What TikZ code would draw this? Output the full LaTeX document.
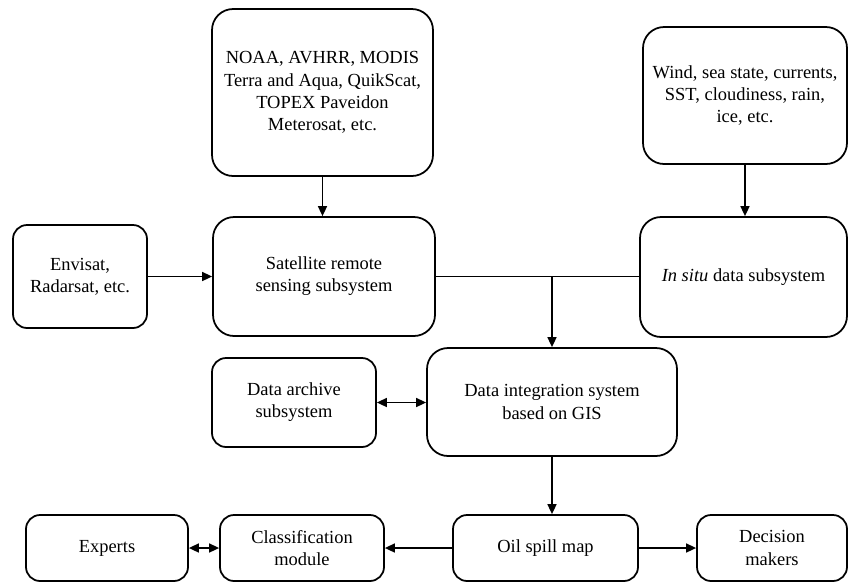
\documentclass[tikz,border=0pt]{standalone}
\usepackage{fontspec}
\setmainfont{Liberation Serif}
\usetikzlibrary{arrows.meta}
\tikzset{
  blk/.style={rectangle, rounded corners=8pt, draw=black, line width=1pt,
              align=center, inner sep=2pt, font=\fontsize{10.5}{12.6}\selectfont},
  fl/.style={-{Triangle[length=2mm, width=1.8mm]}, draw=black, line width=0.9pt},
  dfl/.style={{Triangle[length=2mm, width=1.8mm]}-{Triangle[length=2mm, width=1.8mm]}, draw=black, line width=0.9pt},
  ln/.style={draw=black, line width=0.9pt},
}
\begin{document}
\begin{tikzpicture}
\useasboundingbox (0,0) rectangle (17.02,-11.68);

\node[blk, minimum width=4.42cm, minimum height=3.34cm, rounded corners=12pt] (noaa) at (6.45,-1.85) {NOAA, AVHRR, MODIS\\Terra and Aqua, QuikScat,\\TOPEX Paveidon\\Meterosat, etc.};
\node[blk, minimum width=4.08cm, minimum height=2.74cm, rounded corners=12pt] (wind) at (14.9,-1.91) {Wind, sea state, currents,\\SST, cloudiness, rain,\\ice, etc.};

\node[blk, minimum width=2.68cm, minimum height=2.06cm] (envisat) at (1.6,-5.53) {Envisat,\\Radarsat, etc.};
\node[blk, minimum width=4.44cm, minimum height=2.38cm, rounded corners=12pt] (sat) at (6.48,-5.53) {Satellite remote\\sensing subsystem};
\node[blk, minimum width=4.14cm, minimum height=2.40cm, rounded corners=12pt] (insitu) at (14.87,-5.54) {\textit{In situ} data subsystem};

\node[blk, minimum width=3.28cm, minimum height=1.78cm] (archive) at (5.88,-8.05) {Data archive\\subsystem};
\node[blk, minimum width=5.00cm, minimum height=2.16cm, rounded corners=12pt] (integ) at (11.04,-8.04) {Data integration system\\based on GIS};

\node[blk, minimum width=3.24cm, minimum height=1.32cm] (experts) at (2.14,-10.96) {Experts};
\node[blk, minimum width=3.28cm, minimum height=1.32cm] (classif) at (6.04,-10.96) {Classification\\module};
\node[blk, minimum width=3.70cm, minimum height=1.32cm] (oil) at (10.91,-10.96) {Oil spill map};
\node[blk, minimum width=3.00cm, minimum height=1.32cm] (decision) at (15.44,-10.96) {Decision\\makers};

\coordinate (join) at (integ.north |- sat.east);

\draw[fl] (noaa.south) -- (noaa.south |- sat.north);
\draw[fl] (wind.south) -- (wind.south |- insitu.north);
\draw[fl] (envisat) -- (sat);
\draw[ln] (sat.east) -- (sat.east -| insitu.west);
\draw[fl] (join) -- (integ.north);
\draw[dfl] (archive.east) -- (archive.east -| integ.west);
\draw[fl] (integ.south) -- (integ.south |- oil.north);
\draw[fl] (oil) -- (classif);
\draw[dfl] (experts) -- (classif);
\draw[fl] (oil) -- (decision);
\end{tikzpicture}
\end{document}
